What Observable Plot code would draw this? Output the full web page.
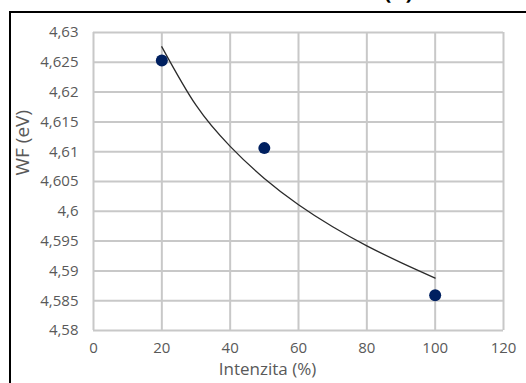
<!DOCTYPE html>
<html>
<head>
<meta charset="utf-8">
<script src="https://cdn.jsdelivr.net/npm/d3@7"></script>
<script src="https://cdn.jsdelivr.net/npm/@observablehq/plot@0.6"></script>
<style>
  html, body { margin: 0; padding: 0; background: #fff; overflow: hidden; }
  #wrap { position: relative; width: 526px; height: 383px; overflow: hidden; }
  #wrap svg { position: absolute; left: 0; top: 0; }
  #box { position: absolute; left: 9px; top: 11px; width: 600px; height: 600px;
         border-left: 2px solid #000; border-top: 2px solid #000; }
  #title { position: absolute; left: 384px; top: -25px; font: bold 22px "Open Sans", sans-serif;
           color: #000; white-space: nowrap; }
</style>
</head>
<body>
<div id="wrap">
  <div id="box"></div>
  <div id="title">(b)</div>
</div>
<script>
// Measured work function versus light intensity
const intensity = [20, 50, 100];
const wf = [4.6253, 4.6106, 4.5859];

// Logarithmic trend line, sampled along the curve
const trendX = [20, 30, 40, 50, 60, 70, 80, 90, 100];
const trendY = [4.6276, 4.6178, 4.6109, 4.6055, 4.6011, 4.5974, 4.5942, 4.5914, 4.5888];

const xTicks = [0, 20, 40, 60, 80, 100, 120];
const yTicks = [4.58, 4.585, 4.59, 4.595, 4.6, 4.605, 4.61, 4.615, 4.62, 4.625, 4.63];

const xLabel = "Intenzita (%)";
const yLabel = "WF (eV)";

const points = intensity.map((x, i) => ({x, y: wf[i]}));
const trend = trendX.map((x, i) => ({x, y: trendY[i]}));

const comma = v => String(+v.toFixed(3)).replace(".", ",");
const grid = "#c8c8c8";
const ink = "#595959";
const font = "'Open Sans', 'Noto Sans', sans-serif";

const chart = Plot.plot({
  width: 526,
  height: 383,
  marginLeft: 93,
  marginRight: 23,
  marginTop: 32,
  marginBottom: 53,
  style: {fontFamily: font, fontSize: "15px", color: ink, background: "transparent", overflow: "visible"},
  x: {domain: [0, 120], ticks: xTicks},
  y: {domain: [4.58, 4.63], ticks: yTicks},
  marks: [
    Plot.gridX(xTicks, {stroke: grid, strokeOpacity: 1, strokeWidth: 2}),
    Plot.gridY(yTicks, {stroke: grid, strokeOpacity: 1, strokeWidth: 2}),
    Plot.axisX({ticks: xTicks, tickSize: 0, tickPadding: 12, label: null, fill: ink, fontSize: 15}),
    Plot.axisY({ticks: yTicks, tickSize: 0, tickPadding: 15, tickFormat: comma, label: null, fill: ink, fontSize: 15}),
    Plot.text([xLabel], {frameAnchor: "bottom", dx: -31, dy: 44, text: d => d, fill: ink, fontSize: 17}),
    Plot.text([yLabel], {frameAnchor: "left", dx: -71, dy: -6, rotate: -90, text: d => d, fill: ink, fontSize: 19}),
    Plot.line(trend, {x: "x", y: "y", curve: "natural", stroke: "#2b2b2b", strokeWidth: 1.3}),
    Plot.dot(points, {x: "x", y: "y", r: 6, fill: "#002060", stroke: "none"})
  ]
});

document.getElementById("wrap").appendChild(chart);
</script>
</body>
</html>
